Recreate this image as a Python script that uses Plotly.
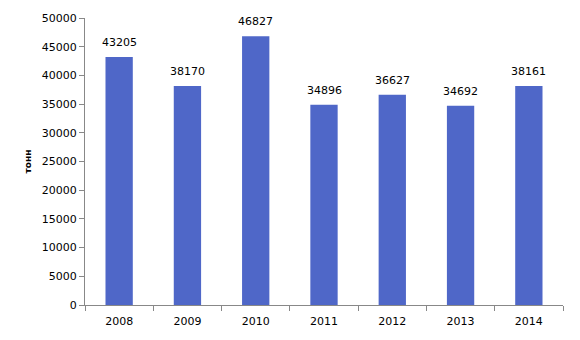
import plotly.graph_objects as go

years = ["2008", "2009", "2010", "2011", "2012", "2013", "2014"]
values = [43205, 38170, 46827, 34896, 36627, 34692, 38161]
y_ticks = [0, 5000, 10000, 15000, 20000, 25000, 30000, 35000, 40000, 45000, 50000]

fig = go.Figure(go.Bar(
    x=years, y=values,
    marker=dict(color="#4F67C8", line=dict(width=0)), width=0.4,
))
for i, v in enumerate(values):
    fig.add_annotation(x=i, y=v, text=str(v), showarrow=False, yanchor="bottom",
                       yshift=6, font=dict(size=11, color="#000000", family="DejaVu Sans"))
fig.update_layout(
    width=580, height=340, plot_bgcolor="white", paper_bgcolor="white",
    margin=dict(l=85, r=17, t=16, b=35),
    showlegend=False,
    font=dict(family="DejaVu Sans", size=11, color="#000000"),
)
fig.update_xaxes(type="category", showline=True, linecolor="#888888", linewidth=1, ticks="outside",
                 tickson="boundaries", ticklen=5, tickcolor="#888888", showgrid=False,
                 tickfont=dict(size=11), ticklabelstandoff=6)
fig.update_yaxes(range=[0, 50000], tickvals=y_ticks, ticktext=[str(t) for t in y_ticks],
                 showline=True, linecolor="#888888",
                 linewidth=1, ticks="outside", ticklen=5, tickcolor="#888888",
                 showgrid=False, zeroline=False, tickfont=dict(size=11),
                 title=dict(text="<b>тонн</b>", font=dict(size=9), standoff=8))
fig.write_html("out.html")
